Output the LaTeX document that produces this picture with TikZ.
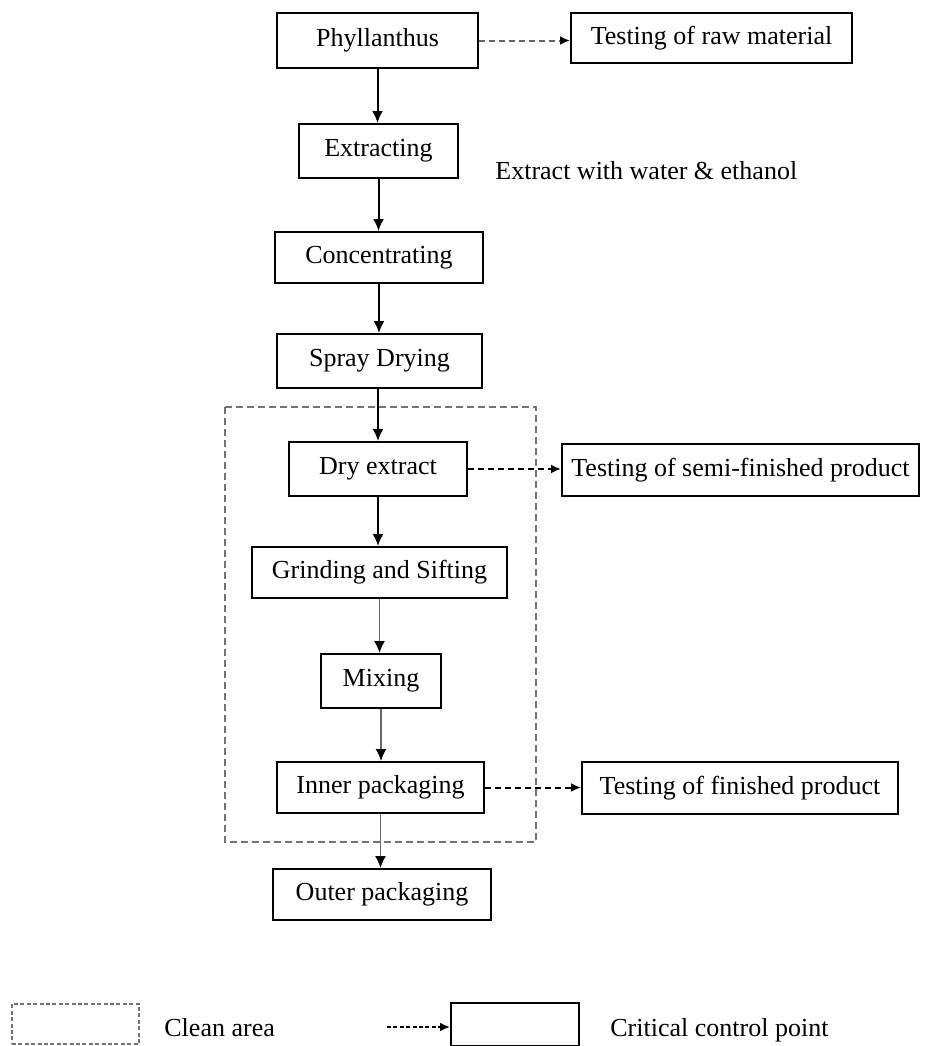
\documentclass[tikz,border=0pt]{standalone}
\usepackage{fontspec}
\setmainfont{Liberation Serif}
\usetikzlibrary{arrows.meta}

\begin{document}
\begin{tikzpicture}[
 x=0.5pt,y=-0.5pt,
 >={Latex[length=6pt,width=5.5pt]},
 font=\fontsize{13}{15}\selectfont,
 inner sep=0pt,
 box/.style={draw=black,line width=1pt,rectangle},
 flow/.style={->,line width=1pt,black},
 flow-light/.style={-{Latex[length=6pt,width=5.5pt,color=black]},line width=0.8pt,black!60},
 test/.style={-{Latex[length=5pt,width=4.5pt,color=black]},line width=1pt,dash pattern=on 3pt off 2pt},
 zone/.style={draw=black!55,line width=1.1pt,dash pattern=on 3.5pt off 2pt}
]
\useasboundingbox (0,0) rectangle (931,1046);
\node (phyllanthus) [box,minimum width=100.5pt,minimum height=27.5pt] at (377.5,40.5) {Phyllanthus};
\node (test-raw) [box,minimum width=140.5pt,minimum height=25pt] at (711.5,38) {Testing of raw material};
\node (extracting) [box,minimum width=79.5pt,minimum height=27pt] at (378.5,151) {Extracting};
\node (solvent) [anchor=base west] at (495,179) {Extract with water \& ethanol};
\node (concentrating) [box,minimum width=104pt,minimum height=25.5pt] at (379,257.5) {Concentrating};
\node (spray-drying) [box,minimum width=102.5pt,minimum height=27pt] at (379.5,361) {Spray Drying};
\node (dry-extract) [box,minimum width=89pt,minimum height=27pt] at (378,469) {Dry extract};
\node (test-semi) [box,minimum width=178.5pt,minimum height=26pt] at (740.5,470) {Testing of semi-finished product};
\node (grinding) [box,minimum width=127.5pt,minimum height=25.5pt] at (379.5,572.5) {Grinding and Sifting};
\node (mixing) [box,minimum width=60pt,minimum height=27pt] at (381,681) {Mixing};
\node (inner-pack) [box,minimum width=103.5pt,minimum height=25.5pt] at (380.5,787.5) {Inner packaging};
\node (test-finished) [box,minimum width=158pt,minimum height=26pt] at (740,788) {Testing of finished product};
\node (outer-pack) [box,minimum width=109pt,minimum height=25.5pt] at (382,894.5) {Outer packaging};
\draw [zone] (225,407) rectangle (536,842);
\draw[flow] (phyllanthus.south) -- (phyllanthus.south |- extracting.north);
\draw[flow] (extracting.south) -- (extracting.south |- concentrating.north);
\draw[flow] (concentrating.south) -- (concentrating.south |- spray-drying.north);
\draw[flow] (dry-extract.north |- spray-drying.south) -- (dry-extract.north);
\draw[flow] (dry-extract.south) -- (dry-extract.south |- grinding.north);
\draw[flow-light] (grinding.south) -- (grinding.south |- mixing.north);
\draw[flow-light] (mixing.south) -- (mixing.south |- inner-pack.north);
\draw[flow-light] (inner-pack.south) -- (inner-pack.south |- outer-pack.north);
\draw[test,black!60] (phyllanthus.east) -- (phyllanthus.east -| test-raw.west);
\draw[test] (dry-extract.east) -- (dry-extract.east -| test-semi.west);
\draw[test] (inner-pack.east) -- (inner-pack.east -| test-finished.west);
\node (legend-zone) [draw=black!55,line width=0.8pt,dash pattern=on 2pt off 1.2pt,minimum width=63.5pt,minimum height=20pt] at (75.5,1024) {};
\node (legend-zone-text) [anchor=base west] at (164,1036) {Clean area};
\node (legend-box) [box,minimum width=64pt,minimum height=21.5pt] at (515,1024.5) {};
\coordinate (legend-tail) at (387,1027);
\draw[test,dash pattern=on 2pt off 1.2pt] (legend-tail) -- (legend-tail -| legend-box.west);
\node (legend-box-text) [anchor=base west] at (610,1036) {Critical control point};
\end{tikzpicture}
\end{document}
